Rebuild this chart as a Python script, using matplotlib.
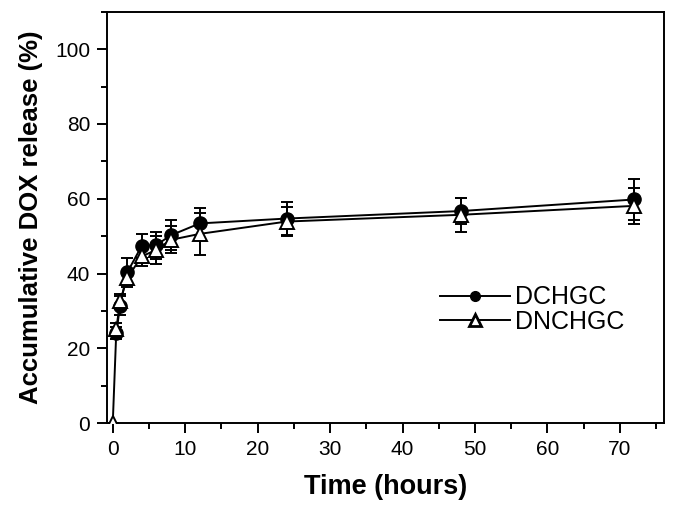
import numpy as np
from matplotlib import pyplot as plt
from matplotlib.ticker import MultipleLocator
from matplotlib.lines import Line2D

plt.rcParams['font.family'] = ['Liberation Sans', 'DejaVu Sans']

# release data
time_hours = [0, 0.5, 1, 2, 4, 6, 8, 12, 24, 48, 72]
dchgc = [0, 24.1, 31.4, 40.3, 47.4, 47.6, 50.2, 53.4, 54.7, 56.7, 59.8]
dchgc_err = [0, 1.5, 2.5, 3.8, 3.3, 3.6, 4.0, 4.2, 4.3, 3.5, 5.5]
dnchgc = [0, 25.2, 32.6, 38.8, 44.6, 46.3, 49.0, 50.6, 53.9, 55.7, 58.1]
dnchgc_err = [0, 1.5, 2.0, 2.0, 2.6, 3.8, 3.6, 5.6, 3.8, 4.6, 4.8]

fig = plt.figure(figsize=(6.77, 5.11), dpi=100)
ax = fig.add_axes([0.158, 0.172, 0.823, 0.805])

ax.errorbar(time_hours[1:], dchgc[1:], yerr=dchgc_err[1:], color='black', marker='o',
            markersize=9.5, lw=1.4, capsize=4, capthick=1.4, elinewidth=1.4, zorder=3)
ax.errorbar(time_hours, dnchgc, yerr=dnchgc_err, color='black', marker='^',
            markersize=10.5, markerfacecolor='white', markeredgewidth=1.4, lw=1.4,
            capsize=4, capthick=1.4, elinewidth=1.4, zorder=4)

ax.set_xlim(-0.8, 76.1)
ax.set_ylim(0, 110)
ax.xaxis.set_major_locator(MultipleLocator(10))
ax.xaxis.set_minor_locator(MultipleLocator(5))
ax.yaxis.set_major_locator(MultipleLocator(20))
ax.yaxis.set_minor_locator(MultipleLocator(10))
ax.tick_params(which='major', direction='out', length=7, width=1.4, labelsize=15, pad=5)
ax.tick_params(which='minor', direction='out', length=4.5, width=1.4)
for s in ax.spines.values():
    s.set_linewidth(1.4)

ax.set_xlabel('Time (hours)', fontsize=19.5, fontweight='bold', labelpad=11)
ax.set_ylabel('Accumulative DOX release (%)', fontsize=18.5, fontweight='bold', labelpad=9)

handles = [
    Line2D([], [], color='black', lw=1.4, marker='o', markersize=7),
    Line2D([], [], color='black', lw=1.4, marker='^', markersize=8,
           markerfacecolor='white', markeredgewidth=2),
]
ax.legend(handles, ['DCHGC', 'DNCHGC'], loc='center left', bbox_to_anchor=(0.558, 0.276),
          frameon=False, fontsize=18, handlelength=2.8, handletextpad=0.2, labelspacing=0.02)

fig.savefig('out.png', dpi=100)
